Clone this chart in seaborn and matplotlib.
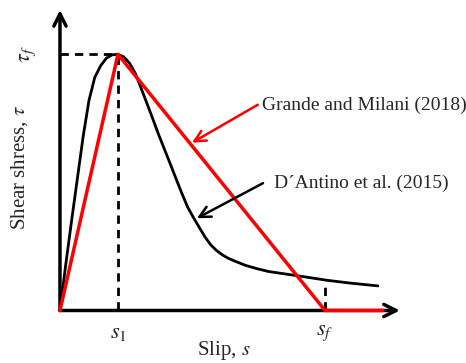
import matplotlib
matplotlib.use("Agg")
import matplotlib.pyplot as plt
import seaborn as sns
import pandas as pd

sns.set_style("white")
plt.rcParams["font.family"] = ["Liberation Serif", "DejaVu Serif"]
plt.rcParams["mathtext.fontset"] = "stix"

# D'Antino et al. (2015) curve, normalized slip s/s1 and stress tau/tau_f
dantino_s = [0.0, 0.05, 0.10, 0.15, 0.20, 0.30, 0.40, 0.50, 0.60, 0.70, 0.80, 0.90, 1.0,
             1.1, 1.2, 1.3, 1.4, 1.5, 1.6, 1.7, 1.8, 1.9, 2.0, 2.1, 2.2, 2.3, 2.4, 2.5,
             2.6, 2.7, 2.8, 2.9, 3.0, 3.2, 3.4, 3.6, 3.9, 4.2, 4.6, 5.0, 5.48]
dantino_t = [0.0, 0.09, 0.18, 0.265, 0.35, 0.515, 0.68, 0.82, 0.91, 0.955, 0.985, 0.998, 1.0,
             0.99, 0.965, 0.925, 0.867, 0.808, 0.748, 0.687, 0.630, 0.573, 0.515, 0.458, 0.404,
             0.363, 0.325, 0.287, 0.256, 0.234, 0.217, 0.204, 0.194, 0.176, 0.163, 0.152,
             0.142, 0.132, 0.118, 0.107, 0.096]

# Grande and Milani (2018) bilinear law
s1 = 1.0
sf = 4.57
s_end = 5.57
grande_s = [0.0, s1, sf, s_end]
grande_t = [0.0, 1.0, 0.0, 0.0]

x_ticklabels = ["$s_1$", "$s_f$"]
y_ticklabel = r"$\tau_f$"

fig = plt.figure(figsize=(4.66, 3.63), dpi=100)
ax = fig.add_axes([0, 0, 1, 1])
ax.set_xlim(-1.034, 7.0)
ax.set_ylim(-0.205, 1.212)
ax.axis("off")

# axes arrows
ax.annotate("", xy=(5.86, 0), xytext=(0, 0),
            arrowprops=dict(arrowstyle="->", lw=2.5, color="black", mutation_scale=22,
                            shrinkA=0, shrinkB=0), zorder=2)
ax.annotate("", xy=(0, 1.173), xytext=(0, 0),
            arrowprops=dict(arrowstyle="->", lw=2.5, color="black", mutation_scale=22,
                            shrinkA=0, shrinkB=0), zorder=2)

# dashed guides
ax.plot([0, s1], [1, 1], color="black", lw=2, linestyle=(0, (3, 2.2)), zorder=3)
ax.plot([s1, s1], [0, 1], color="black", lw=2, linestyle=(0, (3, 2.2)), zorder=3)
ax.plot([sf, sf], [0, 0.09], color="black", lw=2, linestyle=(0, (3, 2.2)), zorder=3)

df_d = pd.DataFrame({"s": dantino_s, "t": dantino_t})
df_g = pd.DataFrame({"s": grande_s, "t": grande_t})
sns.lineplot(data=df_d, x="s", y="t", sort=False, estimator=None, color="black", lw=2, ax=ax, zorder=4)
sns.lineplot(data=df_g, x="s", y="t", sort=False, estimator=None, color="#ff0000", lw=2.5, ax=ax, zorder=5)

# annotation arrows
ax.annotate("", xy=(2.276, 0.655), xytext=(3.41, 0.803),
            arrowprops=dict(arrowstyle="->", color="#ff0000", lw=1.8, mutation_scale=20,
                            shrinkA=0, shrinkB=0), zorder=6)
ax.annotate("", xy=(2.36, 0.36), xytext=(3.50, 0.497),
            arrowprops=dict(arrowstyle="->", color="black", lw=1.8, mutation_scale=20,
                            shrinkA=0, shrinkB=0), zorder=6)
ax.text(3.49, 0.802, "Grande and Milani (2018)", fontsize=14, va="center", ha="left")
ax.text(3.69, 0.498, "D\u00b4Antino et al. (2015)", fontsize=14, va="center", ha="left")

# labels
ax.text(s1, -0.09, x_ticklabels[0], fontsize=16, ha="center", va="center")
ax.text(sf, -0.09, x_ticklabels[1], fontsize=16, ha="center", va="center")
ax.text(-0.55, 1.0, y_ticklabel, fontsize=16, ha="center", va="center", rotation=90)
ax.text(2.83, -0.155, "Slip, $s$", fontsize=15, ha="center", va="center")
ax.text(-0.69, 0.56, r"Shear shress, $\tau$", fontsize=15, ha="center", va="center", rotation=90)

fig.savefig("out.png", dpi=100)
